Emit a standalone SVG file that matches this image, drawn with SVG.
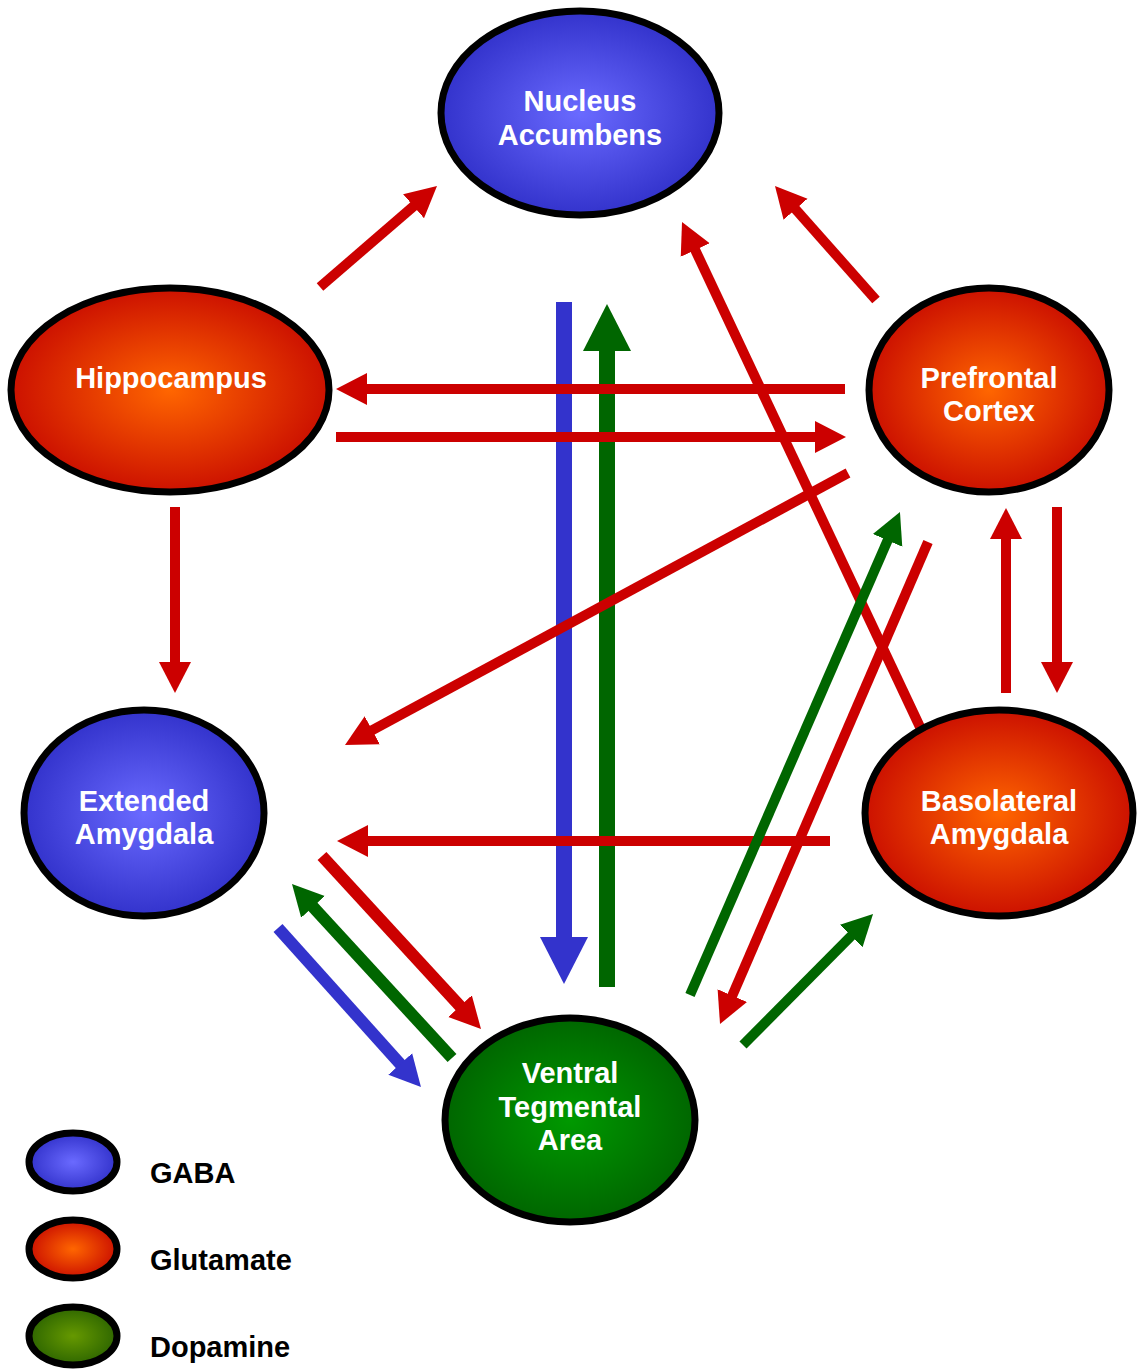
<svg xmlns="http://www.w3.org/2000/svg" width="1138" height="1371" viewBox="0 0 1138 1371">
<style>
.node{stroke:#000;stroke-width:7}
.lbl{font-family:"Liberation Sans",Arial,sans-serif;font-weight:bold;font-size:29px;fill:#fff;text-anchor:middle}
.leg{font-family:"Liberation Sans",Arial,sans-serif;font-weight:bold;font-size:29px;fill:#000}
.r{stroke:#CC0000;stroke-width:10;fill:none;marker-end:url(#ar)}
.g{stroke:#006600;stroke-width:10;fill:none;marker-end:url(#ag)}
.b{stroke:#3333CC;stroke-width:12;fill:none;marker-end:url(#ab)}
.gd{stroke:#006600;stroke-width:12;fill:none;marker-end:url(#ag)}
.rd{stroke:#CC0000;stroke-width:12;fill:none;marker-end:url(#ar)}
.bv{stroke:#3333CC;stroke-width:16;fill:none;marker-end:url(#abv)}
.gv{stroke:#006600;stroke-width:16;fill:none;marker-end:url(#agv)}
</style>
<defs>
<radialGradient id="gBlue" cx="50%" cy="50%" r="50%"><stop offset="0" stop-color="#6A6AFF"/><stop offset="1" stop-color="#3333CC"/></radialGradient>
<radialGradient id="gRed" cx="50%" cy="50%" r="50%"><stop offset="0" stop-color="#FF6600"/><stop offset="1" stop-color="#CC1100"/></radialGradient>
<radialGradient id="gGreen" cx="50%" cy="50%" r="50%"><stop offset="0" stop-color="#009900"/><stop offset="1" stop-color="#006600"/></radialGradient>
<radialGradient id="gDopa" cx="50%" cy="50%" r="50%"><stop offset="0" stop-color="#669900"/><stop offset="1" stop-color="#2E6600"/></radialGradient>
<marker id="ar" markerUnits="userSpaceOnUse" viewBox="0 -17 34 34" markerWidth="34" markerHeight="34" refX="1" refY="0" orient="auto"><path d="M0,-16L31,0L0,16z" fill="#CC0000"/></marker>
<marker id="ag" markerUnits="userSpaceOnUse" viewBox="0 -17 34 34" markerWidth="34" markerHeight="34" refX="1" refY="0" orient="auto"><path d="M0,-16L31,0L0,16z" fill="#006600"/></marker>
<marker id="ab" markerUnits="userSpaceOnUse" viewBox="0 -17 34 34" markerWidth="34" markerHeight="34" refX="1" refY="0" orient="auto"><path d="M0,-16L31,0L0,16z" fill="#3333CC"/></marker>
<marker id="abv" markerUnits="userSpaceOnUse" viewBox="0 -25 50 50" markerWidth="50" markerHeight="50" refX="1" refY="0" orient="auto"><path d="M0,-24L47,0L0,24z" fill="#3333CC"/></marker>
<marker id="agv" markerUnits="userSpaceOnUse" viewBox="0 -25 50 50" markerWidth="50" markerHeight="50" refX="1" refY="0" orient="auto"><path d="M0,-24L47,0L0,24z" fill="#006600"/></marker>
</defs>
<rect width="1138" height="1371" fill="#fff"/>
<g id="connectors">
<path class="bv" d="M564,302L564,938"/>
<path class="gv" d="M607,987L607,350"/>
<path class="r" d="M320,287L414.3,205.6"/>
<path class="r" d="M876,300L794.9,208.5"/>
<path class="r" d="M920,727L694.8,249.1"/>
<path class="r" d="M845,389L366,389"/>
<path class="r" d="M336,437L816,437"/>
<path class="r" d="M848,473L371.4,730.7"/>
<path class="r" d="M175,507L175,663"/>
<path class="r" d="M830,841L367,841"/>
<path class="g" d="M690,995L888,539.5"/>
<path class="r" d="M928,542L731.9,996.5"/>
<path class="r" d="M1006,693L1006,538"/>
<path class="r" d="M1057,507L1057,663"/>
<path class="g" d="M743,1045L851.9,935.3"/>
<path class="rd" d="M322,856L460.7,1006.9"/>
<path class="gd" d="M452,1058L312.3,906.1"/>
<path class="b" d="M278,928L400.9,1064.7"/>
</g>
<g id="nucleus-accumbens">
<ellipse class="node" cx="580" cy="113" rx="139" ry="102" fill="url(#gBlue)"/>
<text class="lbl" x="580" y="111">Nucleus</text>
<text class="lbl" x="580" y="145">Accumbens</text>
</g>
<g id="hippocampus">
<ellipse class="node" cx="170" cy="390" rx="159" ry="102" fill="url(#gRed)"/>
<text class="lbl" x="171" y="388">Hippocampus</text>
</g>
<g id="prefrontal-cortex">
<ellipse class="node" cx="989" cy="390" rx="120" ry="102" fill="url(#gRed)"/>
<text class="lbl" x="989" y="388">Prefrontal</text>
<text class="lbl" x="989" y="421">Cortex</text>
</g>
<g id="extended-amygdala">
<ellipse class="node" cx="144" cy="813" rx="120" ry="103" fill="url(#gBlue)"/>
<text class="lbl" x="144" y="811">Extended</text>
<text class="lbl" x="144" y="844">Amygdala</text>
</g>
<g id="basolateral-amygdala">
<ellipse class="node" cx="999" cy="813" rx="134" ry="103" fill="url(#gRed)"/>
<text class="lbl" x="999" y="811">Basolateral</text>
<text class="lbl" x="999" y="844">Amygdala</text>
</g>
<g id="ventral-tegmental-area">
<ellipse class="node" cx="570" cy="1120" rx="125" ry="102" fill="url(#gGreen)"/>
<text class="lbl" x="570" y="1083">Ventral</text>
<text class="lbl" x="570" y="1117">Tegmental</text>
<text class="lbl" x="570" y="1150">Area</text>
</g>
<g id="legend">
<ellipse class="node" cx="73" cy="1162" rx="44" ry="29" fill="url(#gBlue)"/>
<text class="leg" x="150" y="1183">GABA</text>
<ellipse class="node" cx="73" cy="1249" rx="44" ry="29" fill="url(#gRed)"/>
<text class="leg" x="150" y="1270">Glutamate</text>
<ellipse class="node" cx="73" cy="1336" rx="44" ry="29" fill="url(#gDopa)"/>
<text class="leg" x="150" y="1357">Dopamine</text>
</g>
</svg>
